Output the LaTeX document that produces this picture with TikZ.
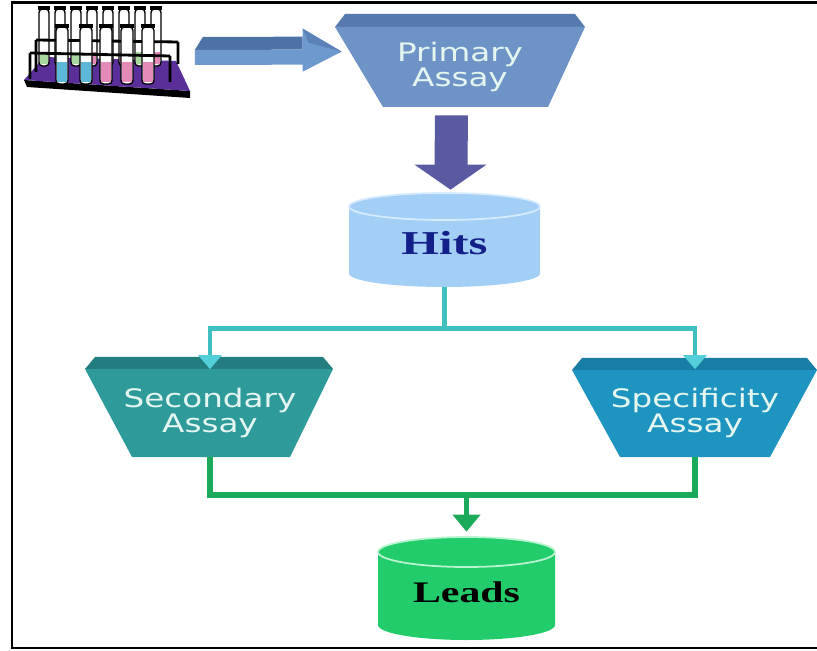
\documentclass[tikz,border=0pt]{standalone}
\usepackage{fontspec}
\usepackage{graphicx}
\newfontfamily\boxfont{DejaVu Sans}
\newfontfamily\cylfont{Liberation Serif}
\usetikzlibrary{calc,arrows.meta}

\definecolor{primface}{HTML}{6E93C6}
\definecolor{primband}{HTML}{557AAB}
\definecolor{secface}{HTML}{2E9A9A}
\definecolor{secband}{HTML}{237C7E}
\definecolor{specface}{HTML}{1E94C0}
\definecolor{specband}{HTML}{187EA6}
\definecolor{assaytext}{HTML}{E4F6EF}
\definecolor{hitsfill}{HTML}{A3CEF6}
\definecolor{hitsrim}{HTML}{D6EBFF}
\definecolor{hitstext}{HTML}{14208A}
\definecolor{leadsfill}{HTML}{22CC6A}
\definecolor{leadsrim}{HTML}{B8F4D0}
\definecolor{hitsline}{HTML}{40BFC0}
\definecolor{hitshead}{HTML}{52CFD8}
\definecolor{leadsline}{HTML}{1AAA5A}
\definecolor{arrfront}{HTML}{6D99CF}
\definecolor{arrtop}{HTML}{4D73A6}
\definecolor{arrpurple}{HTML}{5A5AA2}
\definecolor{rackplate}{HTML}{5B2F9A}
\definecolor{tubegreen}{HTML}{A8D8A0}
\definecolor{tubepink}{HTML}{E48AB8}
\definecolor{tubecyan}{HTML}{5CB8D8}

% stretched label text
\newcommand\wide[1]{\scalebox{1.28}[1]{#1}}

\begin{document}
\begin{tikzpicture}[x=0.02cm, y=-0.02cm,
    assay/.style={minimum height=1.74cm, inner sep=0pt, align=center, text=assaytext,
                  font=\boxfont\fontsize{14.5}{12.5}\selectfont},
    cyl/.style={inner sep=0pt, text depth=0pt},
    tube/.style={fill=white, draw=black, line width=0.8pt, rounded corners=2pt},
    hitline/.style={draw=hitsline, line width=2.8pt,
                    -{Triangle[width=0.46cm, length=0.28cm, color=hitshead]}},
    leadline/.style={draw=leadsline, line width=3.2pt}
    ]
\useasboundingbox (0,0) rectangle (817,651);

% frame
\draw[line width=1.4pt] (817,2.5) -- (12,2.5) -- (12,648) -- (817,648);

% test tube rack
\node[minimum width=3.3cm, minimum height=1.9cm, inner sep=0pt] (rack) at (107,50) {};
\fill[black] (24,80) -- (190,91) -- (190,98) -- (27,87) -- cycle;
\fill[rackplate] (24,80) -- (44,57) -- (176,61) -- (190,91) -- cycle;
\foreach \x/\c in {44/tubegreen,60/tubepink,76/tubegreen,92/tubepink,108/tubegreen,124/tubepink,140/tubegreen,156/tubepink} {
    \draw[tube] (\x-5,9) rectangle (\x+5,66);
    \fill[\c] (\x-4,52) rectangle (\x+4,64);
    \fill[black] (\x-6,6) rectangle (\x+6,10);
}
\draw[line width=1.6pt] (36,40) -- (178,42) (36,40) -- (36,72) (178,42) -- (178,64);
\foreach \x/\c in {62/tubecyan,86/tubecyan,106/tubepink,127/tubepink,148/tubepink} {
    \draw[tube] (\x-6,27) rectangle (\x+6,84);
    \fill[\c] (\x-5,62) rectangle (\x+5,82);
    \fill[black] (\x-7,24) rectangle (\x+7,28);
}
\draw[line width=1.6pt] (30,53) -- (170,56) (30,53) -- (30,79) (170,56) -- (170,82);

% assay funnels
\fill[primband] (345,14) -- (575,14) -- (585,27) -- (335,27) -- cycle;
\fill[primface] (335,27) -- (585,27) -- (548,107) -- (383,107) -- cycle;
\fill[secband] (95,357) -- (323,357) -- (333,369) -- (85,369) -- cycle;
\fill[secface] (85,369) -- (333,369) -- (290,457) -- (132,457) -- cycle;
\fill[specband] (582,358) -- (807,358) -- (817,370) -- (572,370) -- cycle;
\fill[specface] (572,370) -- (817,370) -- (770,457) -- (620,457) -- cycle;

\node[assay, minimum width=5cm, minimum height=1.6cm] (prim) at (460,67) {\wide{Primary}\\\wide{Assay}};
\node[assay, minimum width=4.96cm] (sec) at (210,413) {\wide{Secondary}\\\wide{Assay}};
\node[assay, minimum width=4.9cm] (spec) at (695,413) {\wide{Specificity}\\\wide{Assay}};

% hits cylinder
\fill[hitsfill] (349,206.5) -- (349,273.5) arc (180:0:95.5 and 13.5) -- (540,206.5) arc (0:-180:95.5 and 13.5) -- cycle;
\draw[hitsrim, line width=1pt] (444.5,206.5) ellipse (95.5 and 13.5);
\node[cyl, minimum width=3.82cm, minimum height=1.88cm, text height=17pt, text=hitstext,
      font=\cylfont\bfseries\fontsize{19}{20}\selectfont] (hits) at (444.5,240) {\scalebox{1.45}[1]{Hits}};

% leads cylinder
\fill[leadsfill] (378,552) -- (378,625) arc (180:0:88.5 and 15) -- (555,552) arc (0:-180:88.5 and 15) -- cycle;
\draw[leadsrim, line width=1pt] (466.5,552) ellipse (88.5 and 15);
\node[cyl, minimum width=3.54cm, minimum height=2.06cm, text height=16.2pt, text=black,
      font=\cylfont\bfseries\fontsize{17}{19}\selectfont] (leads) at (466.5,588.5) {\scalebox{1.4}[1]{Leads}};

% block arrows
\coordinate (ba) at ($(rack.east)+(5,0)$);
\coordinate (bb) at ($(prim.north west)+(7,25)$);
\fill[arrtop] (ba) -- ($(ba)+(8,-13)$) -- ($(bb)+(-39,-15)$) -- ($(bb)+(-39,-2)$) -- cycle;
\fill[arrfront] (ba) -- ($(bb)+(-39,-2)$) -- ($(bb)+(-39,-23)$) -- (bb) -- ($(bb)+(-39,20)$)
    -- ($(bb)+(-39,13)$) -- ($(ba)+(0,15)$) -- cycle;
\fill[arrtop!60!arrfront] ($(bb)+(-39,-23)$) -- (bb) -- ($(bb)+(-33,-9)$) -- cycle;

\coordinate (pa) at ($(prim.south)+(-9,8)$);
\coordinate (pb) at ($(hits.north)+(6,-3)$);
\fill[arrpurple] ($(pa)+(-16,0)$) -- ($(pa)+(17,0)$) -- ($(pb)+(17,-25)$) -- ($(pb)+(36,-25)$)
    -- (pb) -- ($(pb)+(-36,-25)$) -- ($(pb)+(-16,-25)$) -- cycle;

% connectors
\draw[hitline] (hits.south) -- ++(0,41) -| (sec.north);
\draw[hitline] (hits.south) -- ++(0,41) -| (spec.north);
\draw[leadline] (sec.south) -- ++(0,38) -| (spec.south);
\draw[leadline, shorten >=0.1cm, -{Triangle[width=0.54cm, length=0.34cm]}]
    ($(leads.north |- sec.south)+(0,38)$) -- (leads.north);
\end{tikzpicture}
\end{document}
